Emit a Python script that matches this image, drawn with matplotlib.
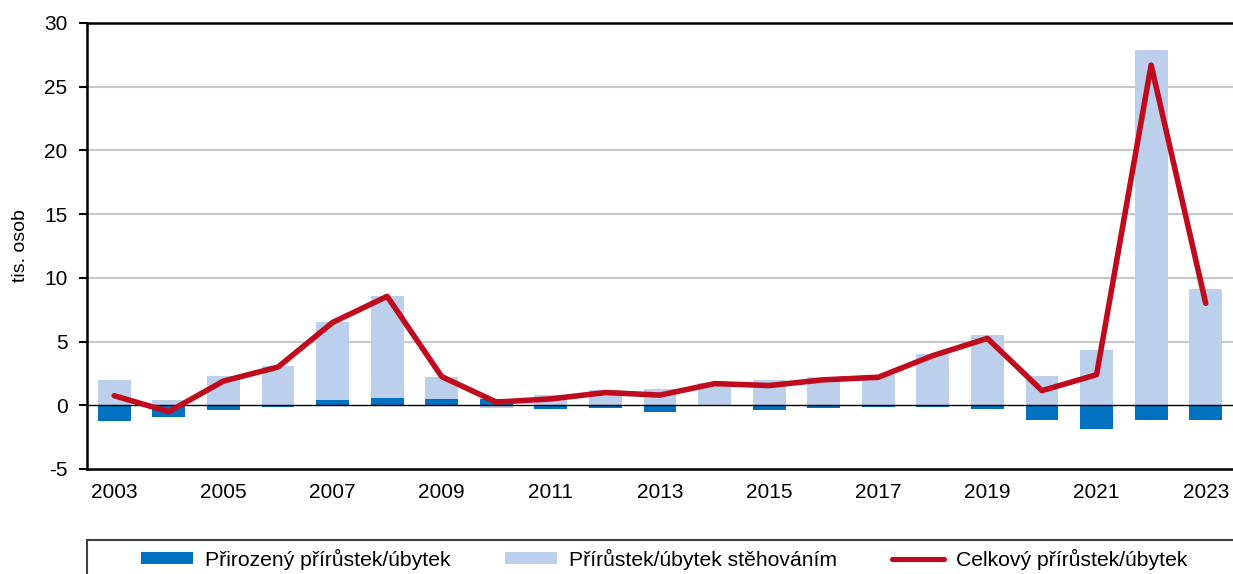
import numpy as np
import matplotlib
matplotlib.use("Agg")
import matplotlib.pyplot as plt
from matplotlib.patches import Rectangle, Patch
from matplotlib.lines import Line2D

plt.rcParams["font.family"] = ["Liberation Sans", "DejaVu Sans"]

years = list(range(2003, 2024))
natural = [-1.25, -0.95, -0.4, -0.1, 0.4, 0.6, 0.5, 0.5, -0.3, -0.2, -0.5,
           -0.08, -0.4, -0.2, -0.15, -0.15, -0.3, -1.15, -1.9, -1.15, -1.15]
migration = [2.0, 0.45, 2.3, 3.1, 6.1, 7.95, 1.75, -0.25, 0.8, 1.2, 1.3,
             1.78, 1.95, 2.2, 2.35, 4.05, 5.55, 2.3, 4.3, 27.85, 9.15]
total = [0.75, -0.5, 1.9, 3.0, 6.5, 8.55, 2.25, 0.25, 0.5, 1.0, 0.8,
         1.7, 1.55, 2.0, 2.2, 3.9, 5.25, 1.15, 2.4, 26.7, 8.0]
xtick_years = list(range(2003, 2024, 2))
yticks = [-5, 0, 5, 10, 15, 20, 25, 30]

labels = ["Přirozený přírůstek/úbytek", "Přírůstek/úbytek stěhováním",
          "Celkový přírůstek/úbytek"]

c_nat = "#0070C0"
c_mig = "#BCCFEB"
c_tot = "#C00A1E"

nat = np.array(natural)
mig = np.array(migration)
# stack migration on natural when both have the same sign
mig_bottom = np.where(np.sign(nat) == np.sign(mig), nat, 0.0)

fig = plt.figure(figsize=(12.33, 5.74), dpi=100)
ax = fig.add_axes([87 / 1233, 1 - 469 / 574, 1 - 87 / 1233, (469 - 23) / 574])

x = np.array(years)
w = 0.6
ax.bar(x, nat, width=w, color=c_nat, zorder=2)
ax.bar(x, mig, width=w, bottom=mig_bottom, color=c_mig, zorder=2)
ax.axhline(0, color="black", lw=1.0, zorder=3)
ax.plot(x, total, color=c_tot, lw=4.0, zorder=4, solid_capstyle="round")

ax.set_xlim(2002.5, 2023.5)
ax.set_ylim(-5, 30)
ax.set_yticks(yticks)
ax.set_yticklabels([str(v) for v in yticks])
ax.set_xticks(xtick_years)
ax.set_xticklabels([str(v) for v in xtick_years])
for v in yticks:
    if v not in (-5, 0, 30):
        ax.axhline(v, color="#C8C8C8", lw=1.5, zorder=1)

for s in ["left", "bottom", "top"]:
    ax.spines[s].set_linewidth(1.8)
    ax.spines[s].set_color("black")
ax.spines["right"].set_visible(False)
ax.tick_params(axis="y", direction="out", length=6, width=1.5, pad=8, labelsize=15)
ax.tick_params(axis="x", length=0, pad=10, labelsize=15)
ax.set_ylabel("tis. osob", fontsize=14, labelpad=11)

# legend box (cut off at the bottom edge)
fig.patches.append(Rectangle((87 / 1233, -0.1), 1.0, 0.1 + 1 - 540 / 574,
                             transform=fig.transFigure, fill=False,
                             edgecolor="#404040", lw=1.5))
handles = [Patch(facecolor=c_nat), Patch(facecolor=c_mig),
           Line2D([0], [0], color=c_tot, lw=3.7, solid_capstyle="round")]
fig.legend(handles, labels, loc="center left", ncol=3, frameon=False,
           bbox_to_anchor=(141 / 1233, 1 - 559 / 574), fontsize=15.2,
           handlelength=2.46, handleheight=0.47, handletextpad=0.57,
           columnspacing=2.6, borderpad=0, borderaxespad=0)

fig.savefig("out.png", dpi=100)
